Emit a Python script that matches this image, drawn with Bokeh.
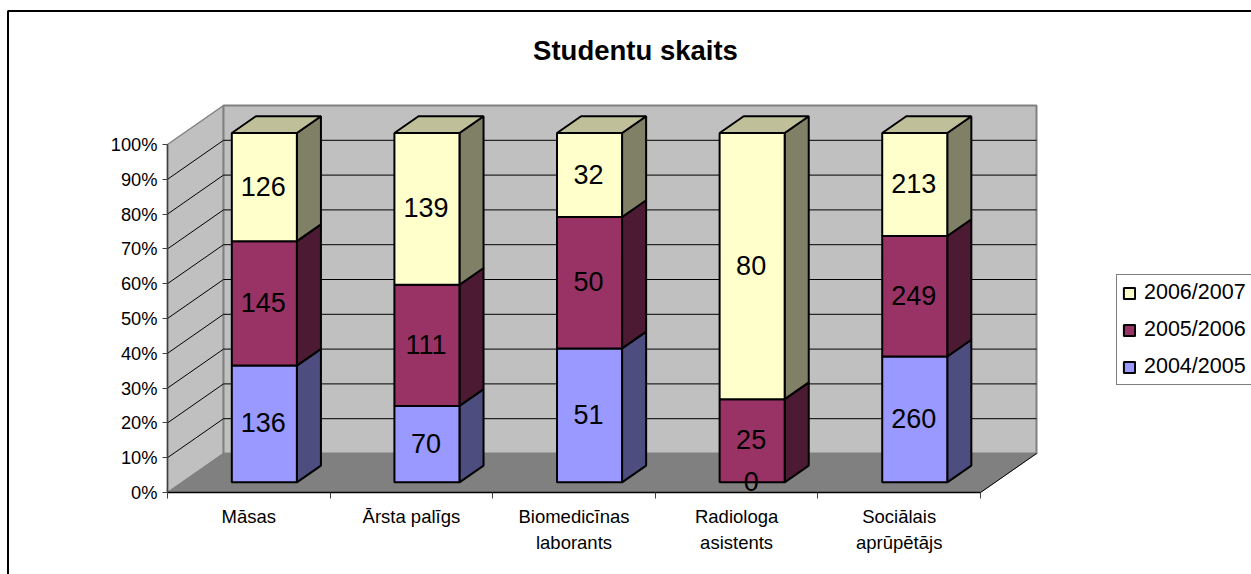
from bokeh.plotting import figure
from bokeh.models import (ColumnDataSource, Range1d, LinearAxis, FixedTicker,
                          Legend, LegendItem, Label)
from bokeh.core.properties import value
from bokeh.embed import file_html
from bokeh.resources import INLINE

TITLE = "Studentu skaits"
categories = ["Māsas", "Ārsta palīgs", "Biomedicīnas\nlaborants", "Radiologa\nasistents", "Sociālais\naprūpētājs"]
series_names = ["2004/2005", "2005/2006", "2006/2007"]
v2004 = [136, 70, 51, 0, 260]
v2005 = [145, 111, 50, 25, 249]
v2006 = [126, 139, 32, 80, 213]
series_values = [v2004, v2005, v2006]
front_colors = ["#9999FF", "#993366", "#FFFFCC"]
side_colors = ["#4D4D80", "#4D1A33", "#808066"]
top_colors = ["#BFBFDF", "#BF8099", "#BFBF99"]

FONT = "Liberation Sans"
W, H = 1251, 574
OX, OY = 0, 0
X0_PX, CAT_PX = 167.0, 162.6     # screen x of axis origin, width of a category
Y0_PX, PCT_PX = 492.0, 3.48      # screen y of 0 %, pixels per percent
DEPTH_X = 56.0 / CAT_PX          # full floor depth in x units
DEPTH_Y = 39.0 / PCT_PX          # full floor depth in y units
N = len(categories)

p = figure(width=W, height=H, output_backend="svg", toolbar_location=None, tools="",
           x_axis_location=None, y_axis_location=None, min_border=0,
           x_range=Range1d((OX - X0_PX) / CAT_PX, (OX + W - X0_PX) / CAT_PX),
           y_range=Range1d((Y0_PX - OY - H) / PCT_PX, (Y0_PX - OY) / PCT_PX))
p.outline_line_color = None
p.background_fill_color = "white"
p.border_fill_color = "white"
p.grid.visible = False


def proj(x, pct, depth):
    return x + depth * DEPTH_X, pct + depth * DEPTH_Y


# chart area border: top and left edges only are visible in the reference
bl = (7.5 - X0_PX) / CAT_PX
bt = (Y0_PX - 10.5) / PCT_PX
p.line([bl, bl, p.x_range.end], [p.y_range.start, bt, bt], line_color="black", line_width=2)

# walls and floor
corner = [(0, 0, 0), (0, 100, 0), (0, 100, 1), (0, 0, 1)]
wx, wy = zip(*[proj(*c) for c in corner])
p.patch(list(wx), list(wy), fill_color="#C0C0C0", line_color="#808080", line_width=1.5)
back = [(0, 0, 1), (0, 100, 1), (N, 100, 1), (N, 0, 1)]
bx, by = zip(*[proj(*c) for c in back])
p.patch(list(bx), list(by), fill_color="#C0C0C0", line_color="#808080", line_width=2)
floor = [(0, 0, 0), (0, 0, 1), (N, 0, 1), (N, 0, 0)]
fx, fy = zip(*[proj(*c) for c in floor])
p.patch(list(fx), list(fy), fill_color="#808080", line_color="#808080", line_width=1)

# gridlines
for pct in range(10, 100, 10):
    gx, gy = zip(*[proj(0, pct, 0), proj(0, pct, 1), proj(N, pct, 1)])
    p.line(list(gx), list(gy), line_color="black", line_width=1)
ex, ey = zip(*[proj(N, 0, 0), proj(N, 0, 1)])
p.line(list(ex), list(ey), line_color="black", line_width=1)

# stacked 3D bars
BAR_W, BAR_DEPTH, BAR_FRONT, BAR_SHIFT, BAR_SCALE = 0.4, 0.43, 0.26, 0.006, 1.004
legend_renderers = {}
labels_x, labels_y, labels_t = [], [], []
for c in range(N):
    total = sum(s[c] for s in series_values)
    left = c + 0.5 - BAR_W / 2 + BAR_SHIFT
    right = left + BAR_W
    cum = 0.0
    for k, s in enumerate(series_values):
        lo = cum / total * 100 * BAR_SCALE
        cum += s[c]
        hi = cum / total * 100 * BAR_SCALE
        d0, d1 = BAR_FRONT, BAR_FRONT + BAR_DEPTH
        if s[c] > 0:
            sx, sy = zip(*[proj(right, lo, d0), proj(right, hi, d0), proj(right, hi, d1), proj(right, lo, d1)])
            p.patch(list(sx), list(sy), fill_color=side_colors[k], line_color="black", line_width=2)
            if cum == total:
                tx, ty = zip(*[proj(left, hi, d0), proj(left, hi, d1), proj(right, hi, d1), proj(right, hi, d0)])
                p.patch(list(tx), list(ty), fill_color=top_colors[k], line_color="black", line_width=2)
            ax, ay = proj(left, lo, d0)
            bx2, by2 = proj(right, hi, d0)
            r = p.quad(left=[ax], right=[bx2], bottom=[ay], top=[by2], fill_color=front_colors[k],
                       line_color="black", line_width=2)
            legend_renderers.setdefault(k, r)
        lx, ly = proj((left + right) / 2, (lo + hi) / 2, d0)
        labels_x.append(lx)
        labels_y.append(ly)
        labels_t.append(str(s[c]))

p.text(x="x", y="y", text="t", source=ColumnDataSource(dict(x=labels_x, y=labels_y, t=labels_t)),
       text_font=value(FONT), text_font_size=value("27px"), text_color="black",
       text_align="center", text_baseline="middle", x_offset=-1, y_offset=-1)

# axes
yax = LinearAxis(fixed_location=0, bounds=(0, 100), ticker=FixedTicker(ticks=list(range(0, 101, 10))))
yax.major_label_overrides = {i: f"{i}%" for i in range(0, 101, 10)}
yax.axis_line_color = "#404040"
yax.axis_line_width = 1.5
yax.major_tick_line_color = "#404040"
yax.major_tick_in = 0
yax.major_tick_out = 5
yax.minor_tick_line_color = None
yax.major_label_standoff = 5
yax.major_label_text_font = FONT
yax.major_label_text_font_size = "18.3px"
yax.major_label_text_color = "black"
p.add_layout(yax, "left")

xax = LinearAxis(fixed_location=0, bounds=(0, N), ticker=FixedTicker(ticks=[i + 0.5 for i in range(N)],
                                                                     minor_ticks=list(range(N + 1))))
xax.major_label_overrides = {i + 0.5: categories[i] for i in range(N)}
xax.axis_line_color = "black"
xax.axis_line_width = 1.5
xax.major_tick_line_color = None
xax.major_tick_in = 0
xax.major_tick_out = 0
xax.minor_tick_line_color = "#404040"
xax.minor_tick_in = 0
xax.minor_tick_out = 6
xax.major_label_standoff = 7
xax.major_label_text_font = FONT
xax.major_label_text_font_size = "18.5px"
xax.major_label_text_color = "black"
xax.major_label_text_line_height = 1.25
xax.major_label_orientation = "horizontal"
p.add_layout(xax, "below")

# title
p.add_layout(Label(x=635 - OX, y=H - 49.5 + OY, x_units="screen", y_units="screen", text=TITLE,
                   text_font=FONT, text_font_size="27.5px", text_font_style="bold",
                   text_align="center", text_baseline="middle", text_color="black"))

# legend
items = [LegendItem(label=series_names[k], renderers=[legend_renderers[k]]) for k in (2, 1, 0)]
legend = Legend(items=items, location=(1116 - OX, H + OY - 385), orientation="vertical",
                label_text_font=FONT, label_text_font_size="21.5px", label_text_color="black",
                glyph_width=14, glyph_height=14, label_standoff=8, spacing=12,
                label_height=25, padding=5, margin=0,
                border_line_color="black", border_line_width=1, background_fill_color="white",
                background_fill_alpha=1)
p.add_layout(legend, "center")

open("out.html", "w").write(file_html(p, INLINE))
